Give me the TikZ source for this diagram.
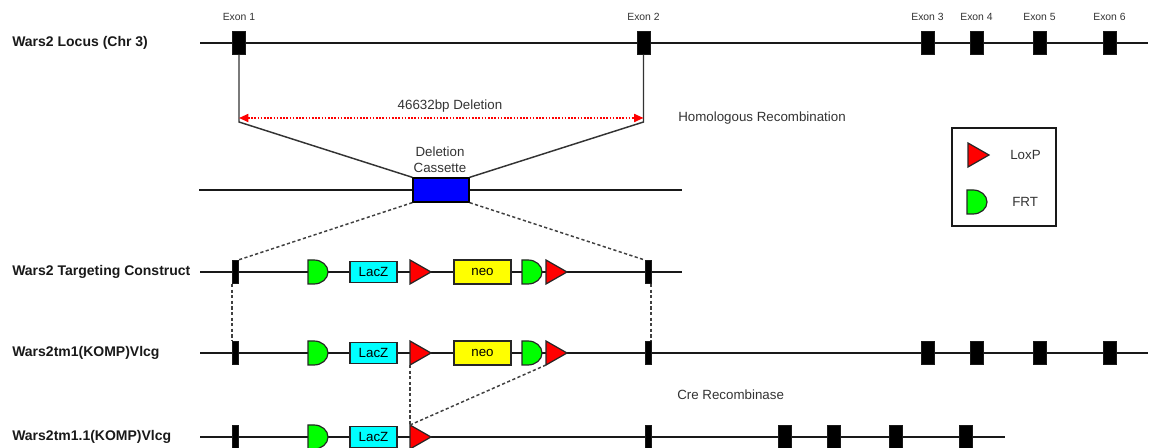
\documentclass[tikz,border=0pt]{standalone}
\usepackage{fontspec}
\setmainfont{Liberation Sans}
\usetikzlibrary{arrows.meta,positioning}
\definecolor{loxred}{RGB}{255,0,0}
\definecolor{frtgreen}{RGB}{0,255,0}
\definecolor{laczcyan}{RGB}{0,255,255}
\definecolor{neoyellow}{RGB}{255,255,0}
\definecolor{casblue}{RGB}{0,0,255}
\tikzset{
  backbone/.style={black!90, line width=1.5pt},
  exon/.style={fill=black, draw=black!90, line width=0.4pt, minimum width=9.5pt, minimum height=17pt, inner sep=0pt},
  armbar/.style={fill=black, draw=black!90, line width=0.4pt, minimum width=4.2pt, minimum height=17.5pt, inner sep=0pt},
  cassette/.style={fill=casblue, draw=black, line width=1pt, minimum width=42pt, minimum height=18pt, inner sep=0pt},
  gene/.style={draw=black!85, line width=1.1pt, inner sep=0pt, font=\fontsize{10}{12}\selectfont},
  conn/.style={black!80, line width=1.1pt},
  link/.style={black!75, line width=1.1pt, dash pattern=on 2.4pt off 1.8pt},
  delarrow/.style={loxred, line width=1.3pt, dash pattern=on 1.2pt off 1.2pt,
    {Triangle[length=7pt,width=6pt]}-{Triangle[length=7pt,width=6pt]}},
  rowlabel/.style={anchor=west, inner sep=0pt, text=black!90, font=\bfseries\fontsize{10.5}{12}\selectfont},
  note/.style={inner sep=0pt, text=black!80, font=\fontsize{10}{12}\selectfont},
  exonlabel/.style={inner sep=0pt, text=black!80, font=\fontsize{7.8}{9}\selectfont},
  pics/loxp/.style={code={
    \filldraw[fill=loxred, draw=black!85, line width=0.9pt] (0,-12) -- (21,0) -- (0,12) -- cycle;
    \coordinate (-nw) at (0,-12);
    \coordinate (-sw) at (0,12);
  }},
  pics/frt/.style={code={
    \filldraw[fill=frtgreen, draw=black!85, line width=0.9pt] (0,-12) -- (6,-12)
      arc[start angle=-90, end angle=90, x radius=14, y radius=12] -- (0,12) -- cycle;
  }},
}

\begin{document}
\begin{tikzpicture}[x=0.75pt,y=-0.75pt]
  \useasboundingbox (0,0) rectangle (1158,448);

  % wild type locus
  \node[rowlabel] (locus) at (12,43) {Wars2 Locus (Chr 3)};
  \draw[backbone] (200,43) -- (1148,43);
  \foreach \n/\x in {1/239,2/643.5,3/927.5,4/976.5,5/1039.5,6/1109.5}{
    \node[exon] (e\n) at (\x,43) {};
    \node[exonlabel] (el\n) at (\x,17) {Exon \n};
  }

  % deletion cassette
  \draw[backbone] (199,190) -- (682,190);
  \node[cassette] (cas) at (441,190) {};
  \node[note, align=center] (caslabel) at (440,160) {Deletion\\Cassette};
  \coordinate (d1) at (239,122);
  \coordinate (d2) at (643.5,122);
  \coordinate (a1) at (239,118);
  \coordinate (a2) at (643.5,118);
  \draw[conn] (e1.south) -- (d1) -- (cas.north west);
  \draw[conn] (e2.south) -- (d2) -- (cas.north east);
  \draw[delarrow] (a1) -- (a2);
  \node[note] (dellabel) at (450,106) {46632bp Deletion};
  \node[note, anchor=west] (homrec) at (678,118) {Homologous Recombination};

  % legend
  \node[draw=black!90, line width=1.1pt, minimum width=78pt, minimum height=73.5pt] (legend) at (1004,177) {};
  \pic (leglox) at (968,155) {loxp};
  \node[note, anchor=west] (loxlabel) at (1010,155) {LoxP};
  \pic (legfrt) at (967,202) {frt};
  \node[note, anchor=west] (frtlabel) at (1012,202) {FRT};

  % targeting construct and tm1 allele
  \node[rowlabel] (target) at (12,272) {Wars2 Targeting Construct};
  \node[rowlabel] (tmone) at (12,353) {Wars2tm1(KOMP)Vlcg};
  \foreach \r/\y/\xe in {t/272/682, m/353/1148}{
    \draw[backbone] (200,\y) -- (\xe,\y);
    \node[armbar] (\r bar1) at (235,\y) {};
    \node[armbar] (\r bar2) at (648,\y) {};
    \pic (\r frt1) at (308,\y) {frt};
    \node[gene, fill=laczcyan, minimum width=35pt, minimum height=15.5pt] (\r lacz) at (373.5,\y) {LacZ};
    \pic (\r lox1) at (410,\y) {loxp};
    \node[gene, fill=neoyellow, minimum width=43pt, minimum height=18pt] (\r neo) at (482.5,\y) {neo};
    \pic (\r frt2) at (522,\y) {frt};
    \pic (\r lox2) at (546,\y) {loxp};
  }
  \foreach \n/\x in {3/927.5,4/976.5,5/1039.5,6/1109.5}{
    \node[exon] (me\n) at (\x,353) {};
  }
  \draw[link] (cas.south west) -- (tbar1.north east);
  \draw[link] (cas.south east) -- (tbar2.north west);
  \draw[link] (tbar1.south west) -- (mbar1.north west);
  \draw[link] (tbar2.south east) -- (mbar2.north east);

  % tm1.1 allele after Cre
  \node[note, anchor=west] (cre) at (677,395) {Cre Recombinase};
  \node[rowlabel] (tmonex) at (12,437) {Wars2tm1.1(KOMP)Vlcg};
  \draw[backbone] (200,437) -- (1005,437);
  \node[armbar] (wbar1) at (235,437) {};
  \node[armbar] (wbar2) at (648,437) {};
  \pic (wfrt1) at (308,437) {frt};
  \node[gene, fill=laczcyan, minimum width=35pt, minimum height=15.5pt] (wlacz) at (373.5,437) {LacZ};
  \pic (wlox1) at (410,437) {loxp};
  \foreach \n/\x in {3/784.5,4/833.5,5/895.5,6/965.5}{
    \node[exon] (we\n) at (\x,437) {};
  }
  \draw[link] (mlox1-sw) -- (wlox1-nw);
  \draw[link] (mlox2-sw) -- (wlox1-nw);
\end{tikzpicture}
\end{document}
